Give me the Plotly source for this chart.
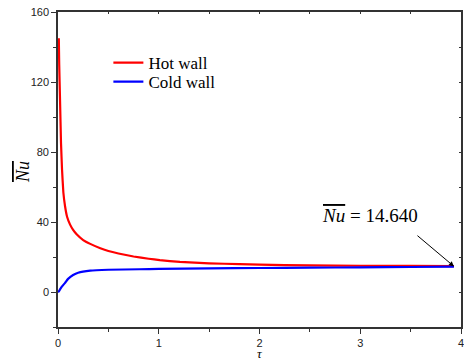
import plotly.graph_objects as go

# Data
tau_hot = [0.008, 0.012, 0.02, 0.03, 0.04, 0.053, 0.07, 0.09, 0.12, 0.15, 0.185, 0.25, 0.32,
           0.42, 0.5, 0.6, 0.75, 0.9, 1.01, 1.21, 1.5, 1.8, 2.0, 2.5, 3.0, 3.5, 3.93]
nu_hot = [145, 130, 110, 85, 70, 57, 49, 43, 38.5, 35.5, 33, 29.7, 27.5,
          25.0, 23.4, 22.0, 20.3, 19.0, 18.2, 17.2, 16.4, 15.9, 15.6, 15.2, 15.0, 14.9, 14.8]

tau_cold = [0.0, 0.008, 0.02, 0.04, 0.07, 0.1, 0.15, 0.2, 0.32, 0.5, 0.81, 1.0, 1.5,
            2.0, 2.5, 3.0, 3.5, 3.93]
nu_cold = [0, 0.3, 1.5, 3.2, 5.2, 7.5, 9.7, 11.0, 12.2, 12.7, 13.0, 13.2, 13.5,
           13.7, 13.9, 14.1, 14.3, 14.5]

x_ticks = [0, 1, 2, 3, 4]
y_ticks = [0, 40, 80, 120, 160]
nu_final = 14.640

axis_col = "#333333"
serif = "Liberation Serif"
sans = "Liberation Sans"

fig = go.Figure()
fig.add_trace(go.Scatter(x=tau_hot, y=nu_hot, mode="lines", name="Hot wall", legend="legend",
                         line=dict(color="#ff0000", width=2.2, shape="spline", smoothing=0.3)))
fig.add_trace(go.Scatter(x=tau_cold, y=nu_cold, mode="lines", name="Cold wall", legend="legend2",
                         line=dict(color="#0000ff", width=2.2, shape="spline", smoothing=0.3)))
# invisible trace to host mirrored inside ticks
fig.add_trace(go.Scatter(x=[0], y=[0], xaxis="x2", yaxis="y2", mode="markers",
                         marker=dict(opacity=0), showlegend=False, hoverinfo="skip"))

leg_common = dict(xanchor="left", yanchor="middle",
                  font=dict(family=serif, size=17, color="black"),
                  bgcolor="rgba(0,0,0,0)", itemwidth=30)

fig.update_layout(
    width=464, height=362,
    margin=dict(l=58, r=3, t=12, b=35),
    paper_bgcolor="white", plot_bgcolor="white",
    showlegend=True,
    legend=dict(x=0.125, y=1 - (63 - 12) / 315, **leg_common),
    legend2=dict(x=0.125, y=1 - (82 - 12) / 315, **leg_common),
    xaxis=dict(range=[0, 4], tickvals=x_ticks, ticks="outside", ticklen=5, tickwidth=1.2,
               tickcolor=axis_col, showline=True, linecolor=axis_col, linewidth=1.6,
               showgrid=False, zeroline=False, automargin=False, ticklabeloverflow="allow",
               minor=dict(dtick=0.5, ticks="outside", ticklen=3, tickcolor=axis_col, tickwidth=1.2),
               tickfont=dict(family=sans, size=11, color="#222")),
    yaxis=dict(range=[-20, 160], tickvals=y_ticks, ticks="outside", ticklen=5, tickwidth=1.2,
               tickcolor=axis_col, showline=True, linecolor=axis_col, linewidth=1.6,
               showgrid=False, zeroline=False, automargin=False, ticklabeloverflow="allow",
               minor=dict(dtick=20, ticks="outside", ticklen=3, tickcolor=axis_col, tickwidth=1.2),
               tickfont=dict(family=sans, size=11, color="#222")),
    xaxis2=dict(range=[0, 4], overlaying="x", side="top", dtick=0.5, ticks="inside", ticklen=2,
                tickcolor=axis_col, showticklabels=False, showline=True, linecolor=axis_col,
                linewidth=1.6, showgrid=False, zeroline=False, automargin=False),
    yaxis2=dict(range=[-20, 160], overlaying="y", side="right", dtick=20, ticks="inside", ticklen=2,
                tickcolor=axis_col, showticklabels=False, showline=True, linecolor=axis_col,
                linewidth=1.6, showgrid=False, zeroline=False, automargin=False),
)

# axis titles
fig.add_annotation(xref="paper", yref="paper", x=0.5, y=-35 / 315, text="<i>τ</i>",
                   showarrow=False, font=dict(family=serif, size=13, color="black"),
                   xanchor="center", yanchor="bottom", borderpad=0)
fig.add_annotation(xref="paper", yref="paper", x=-35 / 403, y=1 - 160 / 315, textangle=-90,
                   text="<i><span style=\"text-decoration:overline\">Nu</span></i>",
                   showarrow=False, font=dict(family=serif, size=18, color="black"),
                   xanchor="center", yanchor="middle")

# arrow pointing at the final value
fig.add_annotation(x=tau_hot[-1], y=nu_final, ax=-38, ay=-32, text="",
                   showarrow=True, arrowhead=2, arrowsize=1, arrowwidth=1, arrowcolor="black",
                   standoff=0)
# label text
fig.add_annotation(x=3.1, y=44,
                   text="<i><span style=\"text-decoration:overline\">Nu</span></i> = " + f"{nu_final:.3f}",
                   showarrow=False, font=dict(family=serif, size=19, color="black"),
                   xanchor="center", yanchor="middle")

# remove the default 8px page margin so the figure sits at the window's corner
fig.write_html("out.html", config={"displayModeBar": False},
               post_script="document.body.style.margin='0';")
